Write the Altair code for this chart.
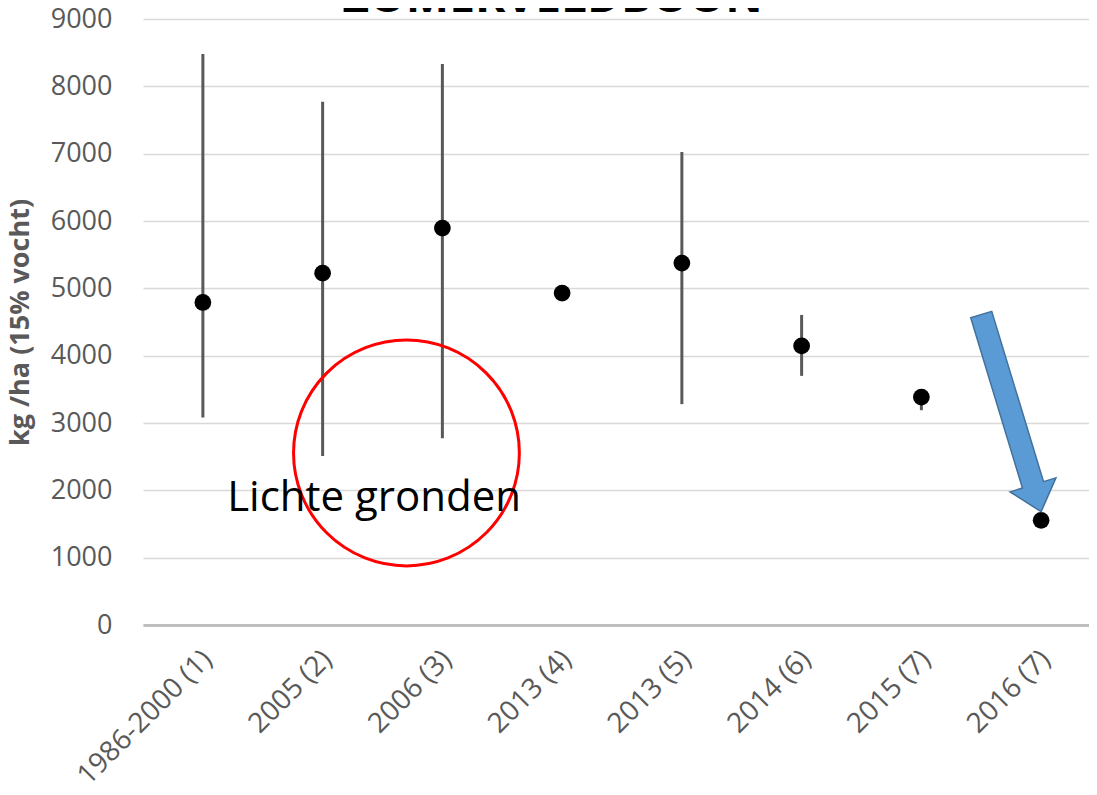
import altair as alt
import pandas as pd

# ---- data ----
categories = ["1986-2000 (1)", "2005 (2)", "2006 (3)", "2013 (4)",
              "2013 (5)", "2014 (6)", "2015 (7)", "2016 (7)"]
means = [4790, 5225, 5895, 4930, 5375, 4145, 3385, 1555]
lows = [3080, 2510, 2775, None, 3280, 3700, 3190, None]
highs = [8480, 7770, 8330, None, 7025, 4605, 3420, None]

y_title = "kg /ha (15% vocht)"
chart_title = "ZOMERVELDBOON"
note_text = "Lichte gronden"

# annotation positions (category index on a linear axis, value on y axis)
note_pos = [1.43, 1700]
ring_pos = [1.70, 2555]
arrow_tip = [7.0, 1683]
title_pos = [2.92, 9105]

df = pd.DataFrame({"cat": categories, "mean": means, "low": lows, "high": highs})

X_RANGE = [0, 958]
yscale = alt.Scale(domain=[0, 9000], nice=False, zero=True)
yaxis = alt.Axis(
    title=y_title, values=list(range(0, 9001, 1000)), format="d",
    labelFontSize=27, labelFont="Open Sans", labelColor="#595959",
    labelPadding=31, ticks=False, domain=False,
    grid=True, gridColor="#D9D9D9", gridWidth=1.5,
    titleFont="Open Sans", titleFontSize=27, titleFontWeight="bold",
    titleColor="#595959", titlePadding=16,
)
xaxis = alt.Axis(
    title=None, labelAngle=-45, labelAlign="right", labelBaseline="middle",
    labelFontSize=28, labelFont="Open Sans", labelColor="#595959",
    labelPadding=30, labelOffset=5, labelLimit=500, ticks=False, domain=True,
    domainColor="#BFBFBF", domainWidth=3, grid=False, labelOverlap=False,
)
xenc = alt.X("cat:N", sort=categories,
             scale=alt.Scale(type="band", domain=categories, range=X_RANGE,
                             paddingInner=0, paddingOuter=0),
             axis=xaxis)

rules = alt.Chart(df).transform_filter("isValid(datum.low)").mark_rule(
    color="#595959", strokeWidth=3
).encode(x=xenc, y=alt.Y("low:Q", scale=yscale, axis=yaxis), y2="high:Q")

points = alt.Chart(df).mark_circle(size=280, color="black", opacity=1).encode(
    x=xenc,
    y=alt.Y("mean:Q", scale=yscale, axis=yaxis),
)

main = alt.layer(rules, points)

ax_scale = alt.Scale(domain=[-0.5, 7.5], range=X_RANGE, nice=False, zero=False)

ann = pd.DataFrame({
    "ax": [note_pos[0]], "ay": [note_pos[1]], "label": [note_text]
})
note = alt.Chart(ann).mark_text(
    fontSize=42, font="Open Sans", color="black", align="center",
    baseline="alphabetic"
).encode(
    x=alt.X("ax:Q", scale=ax_scale, axis=None),
    y=alt.Y("ay:Q", scale=yscale, axis=yaxis),
    text="label:N",
)

ring_df = pd.DataFrame({"ax": [ring_pos[0]], "ay": [ring_pos[1]]})
ring = alt.Chart(ring_df).mark_point(
    shape="circle", size=51000, filled=False, color="#FF0000",
    strokeWidth=3, opacity=1
).encode(
    x=alt.X("ax:Q", scale=ax_scale, axis=None),
    y=alt.Y("ay:Q", scale=yscale, axis=yaxis),
)

arrow_path = ("M0,0 L14.8,-33.8 L2.4,-30 L-49.4,-200.3 L-70.4,-193.9 "
              "L-18.7,-23.6 L-31.1,-19.8 Z")
arrow_df = pd.DataFrame({"ax": [arrow_tip[0]], "ay": [arrow_tip[1]]})
arrow = alt.Chart(arrow_df).mark_point(
    shape=arrow_path, size=4, filled=True, fill="#5B9BD5",
    stroke="#41719C", strokeWidth=1.5, opacity=1, fillOpacity=1
).encode(
    x=alt.X("ax:Q", scale=ax_scale, axis=None),
    y=alt.Y("ay:Q", scale=yscale, axis=yaxis),
)

title_df = pd.DataFrame({"ax": [title_pos[0]], "ay": [title_pos[1]],
                         "label": [chart_title]})
title = alt.Chart(title_df).mark_text(
    fontSize=46, font="Open Sans", fontWeight="bold", color="black",
    align="center", baseline="alphabetic"
).encode(
    x=alt.X("ax:Q", scale=ax_scale, axis=None),
    y=alt.Y("ay:Q", scale=yscale, axis=yaxis),
    text="label:N",
)

chart = alt.layer(main, ring, note, arrow, title).resolve_scale(
    x="independent"
).properties(
    width=946, height=606,
    autosize=alt.AutoSizeParams(type="none"),
    padding={"left": 135, "top": 11, "right": 0, "bottom": 162},
).configure_view(stroke=None)

chart.save("out.html", embed_options={"renderer": "svg", "actions": False})
